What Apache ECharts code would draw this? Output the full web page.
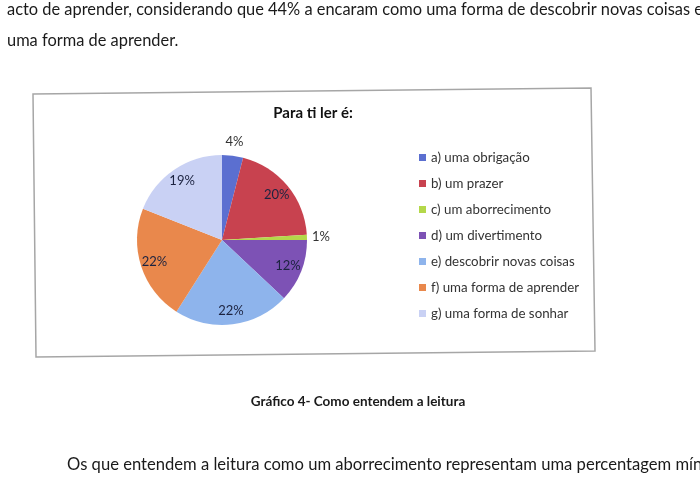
<!DOCTYPE html>
<html>
<head>
<meta charset="utf-8">
<script src="https://cdn.jsdelivr.net/npm/echarts@6.0.0/dist/echarts.min.js"></script>
<style>
  html, body { margin: 0; padding: 0; background: #ffffff; }
  #chart { width: 700px; height: 484px; }
</style>
</head>
<body>
<div id="chart"></div>
<script>
const categories = [
  'a) uma obrigação',
  'b) um prazer',
  'c) um aborrecimento',
  'd) um divertimento',
  'e) descobrir novas coisas',
  'f) uma forma de aprender',
  'g) uma forma de sonhar'
];
const values = [4, 20, 1, 12, 22, 22, 19];
const colors = ['#5b6fd0', '#c8424f', '#b4d84a', '#7d52b5', '#8eb4ec', '#e9884c', '#c9d1f4'];
const chartTitle = 'Para ti ler é:';
const textLine1 = 'acto de aprender, considerando que 44% a encaram como uma forma de descobrir novas coisas e';
const textLine2 = 'uma forma de aprender.';
const caption = 'Gráfico 4- Como entendem a leitura';
const textLine3 = 'Os que entendem a leitura como um aborrecimento representam uma percentagem mínima';

const docFont = 'Lato, "Open Sans", sans-serif';
const R = 85;
const center = [222, 240];
const isSmall = v => v < 5;

const mainData = categories.map((c, i) => ({ name: c, value: values[i], itemStyle: { color: colors[i] } }));
const innerLabelData = categories.map((c, i) => ({
  name: c, value: values[i],
  label: { show: !isSmall(values[i]) }
}));
const outerLabelData = categories.map((c, i) => ({
  name: c, value: values[i],
  label: { show: isSmall(values[i]) }
}));

const chart = echarts.init(document.getElementById('chart'), null, { renderer: 'canvas' });
chart.setOption({
  animation: false,
  backgroundColor: '#ffffff',
  graphic: [
    { type: 'polygon', shape: { points: [[33, 94], [591, 88], [595, 351], [36, 357]] },
      style: { fill: 'none', stroke: '#a6a6a6', lineWidth: 1.5 }, z: 0 },
    { type: 'text', left: 7, top: 2, style: { text: textLine1, font: '16.4px ' + docFont, fill: '#1a1a1a' } },
    { type: 'text', left: 7, top: 33, style: { text: textLine2, font: '16.4px ' + docFont, fill: '#1a1a1a' } },
    { type: 'text', x: 313, y: 113, style: { text: chartTitle, font: 'bold 15px ' + docFont, fill: '#111', align: 'center', verticalAlign: 'middle' } },
    { type: 'text', x: 358, y: 402, style: { text: caption, font: 'bold 13.5px ' + docFont, fill: '#1a1a1a', align: 'center', verticalAlign: 'middle' } },
    { type: 'text', left: 67, top: 456, style: { text: textLine3, font: '16.6px ' + docFont, fill: '#1a1a1a' } }
  ],
  legend: {
    orient: 'vertical',
    left: 414,
    top: 145,
    data: categories,
    icon: 'rect',
    itemWidth: 7,
    itemHeight: 7,
    itemGap: 11,
    selectedMode: false,
    textStyle: { fontFamily: docFont, fontSize: 13.3, color: '#333', lineHeight: 15 }
  },
  series: [
    {
      type: 'pie',
      center: center,
      radius: R,
      startAngle: 90,
      clockwise: true,
      silent: true,
      label: { show: false },
      labelLine: { show: false },
      itemStyle: { borderWidth: 0 },
      data: mainData,
      z: 2
    },
    {
      type: 'pie',
      center: center,
      radius: [R * 0.6, R],
      startAngle: 90,
      clockwise: true,
      silent: true,
      avoidLabelOverlap: false,
      itemStyle: { color: 'rgba(0,0,0,0)', borderWidth: 0 },
      label: { position: 'inside', formatter: '{c}%', fontFamily: docFont, fontSize: 13, color: '#1c2340' },
      labelLine: { show: false },
      data: innerLabelData,
      z: 3
    },
    {
      type: 'pie',
      center: center,
      radius: [R, R + 22],
      startAngle: 90,
      clockwise: true,
      silent: true,
      avoidLabelOverlap: false,
      itemStyle: { color: 'rgba(0,0,0,0)', borderWidth: 0 },
      label: { position: 'inside', formatter: '{c}%', fontFamily: docFont, fontSize: 13, color: '#333' },
      labelLine: { show: false },
      data: outerLabelData,
      z: 3
    }
  ]
});
</script>
</body>
</html>
